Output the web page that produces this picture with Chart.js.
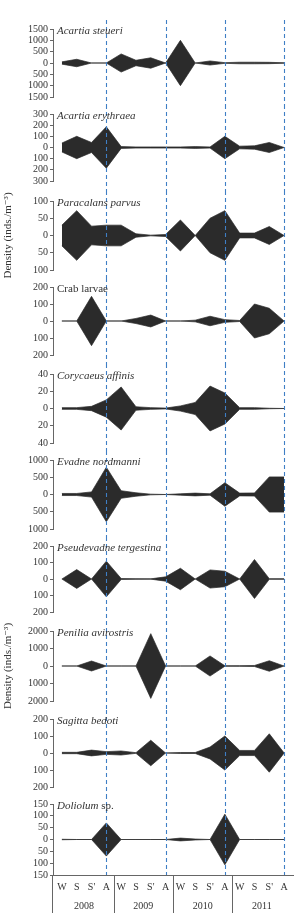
<!DOCTYPE html>
<html>
<head>
<meta charset="utf-8">
<script src="https://cdn.jsdelivr.net/npm/chart.js@4.4.1/dist/chart.umd.min.js"></script>
<style>
  html, body { margin: 0; padding: 0; background: #fff; }
  #wrap { position: relative; width: 294px; height: 913px; overflow: hidden; }
  #wrap canvas { position: absolute; left: 0; }
</style>
</head>
<body>
<div id="wrap"></div>
<script>
"use strict";

// x categories (season per year)
const periods = ["W", "S", "S'", "A", "W", "S", "S'", "A", "W", "S", "S'", "A", "W", "S", "S'", "A"];
const years = ["2008", "2009", "2010", "2011"];
const dashedAt = [3, 7, 11, 15];

// densities (inds./m^3)
const acartiaSteueri = [50, 165, 0, 0, 400, 120, 230, 0, 1000, 0, 90, 15, 35, 35, 30, 10];
const acartiaErythraea = [40, 100, 45, 185, 8, 5, 5, 5, 5, 8, 5, 100, 12, 15, 45, 0];
const paracalansParvus = [30, 72, 27, 30, 30, 5, 1, 3, 45, 0, 50, 72, 7, 7, 26, 0];
const crabLarvae = [0, 0, 145, 0, 0, 15, 35, 0, 0, 5, 28, 8, 3, 100, 75, 0];
const corycaeusAffinis = [1, 1, 2.5, 10, 25, 2, 1, 0.5, 3, 7, 26, 18, 1, 1, 0.3, 0];
const evadneNordmanni = [30, 30, 75, 790, 110, 50, 10, 0, 20, 40, 20, 340, 40, 45, 510, 510];
const pseudevadneTergestina = [0, 57, 0, 108, 3, 2, 1, 13, 65, 0, 55, 47, 0, 118, 2, 2];
const peniliaAvirostris = [0, 0, 285, 0, 0, 0, 1850, 0, 0, 0, 575, 15, 20, 30, 300, 0];
const sagittaBedoti = [4, 4, 17, 8, 12, 2, 75, 0, 3, 3, 35, 100, 15, 15, 113, 0];
const doliolumSp = [1, 0, 0, 70, 0, 0, 0, 0, 6, 2, 0, 107, 0, 0, 0, 0];

const panels = [
  { title: [["Acartia steueri", true]], values: acartiaSteueri, max: 1500, step: 500 },
  { title: [["Acartia erythraea", true]], values: acartiaErythraea, max: 300, step: 100 },
  { title: [["Paracalans parvus", true]], values: paracalansParvus, max: 100, step: 50, yTitle: true },
  { title: [["Crab larvae", false]], values: crabLarvae, max: 200, step: 100 },
  { title: [["Corycaeus affinis", true]], values: corycaeusAffinis, max: 40, step: 20 },
  { title: [["Evadne nordmanni", true]], values: evadneNordmanni, max: 1000, step: 500 },
  { title: [["Pseudevadne tergestina", true]], values: pseudevadneTergestina, max: 200, step: 100 },
  { title: [["Penilia avirostris", true]], values: peniliaAvirostris, max: 2000, step: 1000, yTitle: true },
  { title: [["Sagitta bedoti", true]], values: sagittaBedoti, max: 200, step: 100 },
  { title: [["Doliolum", true], [" sp.", false]], values: doliolumSp, max: 150, step: 50 },
];

// page layout (px)
const bounds = [0, 105, 191, 278, 364, 451, 537, 621, 710, 795, 913];
const plotTop = [29, 114, 201, 287, 374, 460, 546, 631, 719, 804];
const plotBottom = [97, 181, 270, 355, 443, 529, 612, 701, 787, 875];
const axisWidth = 53;
const bottomAxisHeight = 38;

const SERIF = "'Liberation Serif', 'DejaVu Serif', serif";
const INK = "#2b2b2b";
const TEXT = "#333";
const AXIS = "#666";
const BLUE = "#3f7fc5";

Chart.defaults.font.family = SERIF;
Chart.defaults.color = TEXT;

const wrap = document.getElementById("wrap");

panels.forEach((p, idx) => {
  const isLast = idx === panels.length - 1;
  const top = bounds[idx];
  const height = bounds[idx + 1] - top;

  const canvas = document.createElement("canvas");
  canvas.width = 294;
  canvas.height = height;
  canvas.style.top = top + "px";
  canvas.style.width = "294px";
  canvas.style.height = height + "px";
  wrap.appendChild(canvas);

  const padTop = plotTop[idx] - top;
  const padBottom = isLast
    ? bounds[idx + 1] - plotBottom[idx] - bottomAxisHeight
    : bounds[idx + 1] - plotBottom[idx];

  const titlePlugin = {
    id: "panelTitle",
    afterDraw(chart) {
      const { ctx, chartArea } = chart;
      ctx.save();
      ctx.fillStyle = TEXT;
      ctx.textBaseline = "middle";
      let x = chartArea.left + 4;
      const y = chartArea.top + 2;
      p.title.forEach(([txt, italic]) => {
        ctx.font = (italic ? "italic " : "") + "11px " + SERIF;
        ctx.fillText(txt, x, y);
        x += ctx.measureText(txt).width;
      });
      ctx.restore();
    },
  };

  const dashPlugin = {
    id: "seasonLines",
    afterDatasetsDraw(chart) {
      const { ctx, chartArea, scales } = chart;
      const y0 = idx === 0 ? 20 : 0;
      const y1 = isLast ? chartArea.bottom : chart.height;
      ctx.save();
      ctx.strokeStyle = BLUE;
      ctx.lineWidth = 1.1;
      ctx.setLineDash([4, 3]);
      dashedAt.forEach((i) => {
        const x = Math.round(scales.x.getPixelForValue(i)) + 0.5;
        ctx.beginPath();
        ctx.moveTo(x, y0);
        ctx.lineTo(x, y1);
        ctx.stroke();
      });
      ctx.restore();
    },
  };

  const yearPlugin = {
    id: "yearRow",
    afterDraw(chart) {
      if (!isLast) return;
      const { ctx, chartArea, scales } = chart;
      const yTop = chartArea.bottom;
      const yEnd = chart.height;
      ctx.save();
      ctx.strokeStyle = AXIS;
      ctx.lineWidth = 1;
      const seps = [chartArea.left - 0.5];
      for (let k = 1; k < years.length; k++) {
        seps.push(Math.round(scales.x.getPixelForValue(k * 4 - 0.5)) + 0.5);
      }
      seps.forEach((x) => {
        ctx.beginPath();
        ctx.moveTo(x, yTop);
        ctx.lineTo(x, yEnd);
        ctx.stroke();
      });
      ctx.fillStyle = TEXT;
      ctx.font = "10px " + SERIF;
      ctx.textAlign = "center";
      ctx.textBaseline = "middle";
      years.forEach((yr, k) => {
        ctx.fillText(yr, scales.x.getPixelForValue(k * 4 + 1.5), yTop + 31);
      });
      ctx.restore();
    },
  };

  new Chart(canvas, {
    type: "line",
    data: {
      datasets: [
        {
          data: p.values.map((v, i) => ({ x: i, y: v })),
          borderColor: INK,
          backgroundColor: INK,
          borderWidth: 0.7,
          pointRadius: 0,
          fill: "+1",
        },
        {
          data: p.values.map((v, i) => ({ x: i, y: -v })),
          borderColor: INK,
          backgroundColor: INK,
          borderWidth: 0.7,
          pointRadius: 0,
          fill: false,
        },
      ],
    },
    options: {
      responsive: false,
      devicePixelRatio: 1,
      animation: false,
      layout: { padding: { top: padTop, bottom: padBottom, left: 0, right: 1 } },
      plugins: { legend: { display: false }, tooltip: { enabled: false } },
      scales: {
        x: {
          type: "linear",
          min: -0.6,
          max: 15.6,
          display: isLast,
          afterBuildTicks: (scale) => {
            scale.ticks = periods.map((_, i) => ({ value: i }));
          },
          afterFit: (scale) => {
            scale.height = isLast ? bottomAxisHeight : 0;
          },
          ticks: {
            autoSkip: false,
            maxRotation: 0,
            padding: 6,
            font: { size: 10 },
            color: TEXT,
            callback: (v) => periods[v] ?? "",
          },
          grid: { display: false, drawTicks: false },
          border: { display: true, color: AXIS, width: 1 },
        },
        y: {
          type: "linear",
          min: -p.max,
          max: p.max,
          afterBuildTicks: (scale) => {
            const t = [];
            for (let v = -p.max; v <= p.max + 1e-9; v += p.step) t.push({ value: v });
            scale.ticks = t;
          },
          afterFit: (scale) => {
            scale.width = axisWidth;
          },
          ticks: {
            autoSkip: false,
            padding: 2,
            font: { size: 10 },
            color: TEXT,
            callback: (v) => String(Math.abs(v)),
          },
          grid: { drawOnChartArea: false, drawTicks: true, tickLength: 3, color: AXIS },
          border: { display: true, color: AXIS, width: 1 },
          title: {
            display: !!p.yTitle,
            text: "Density (inds./m\u207B\u00B3)",
            font: { size: 11 },
            color: TEXT,
            padding: { top: 2, bottom: 0 },
          },
        },
      },
    },
    plugins: [titlePlugin, dashPlugin, yearPlugin],
  });
});
</script>
</body>
</html>
